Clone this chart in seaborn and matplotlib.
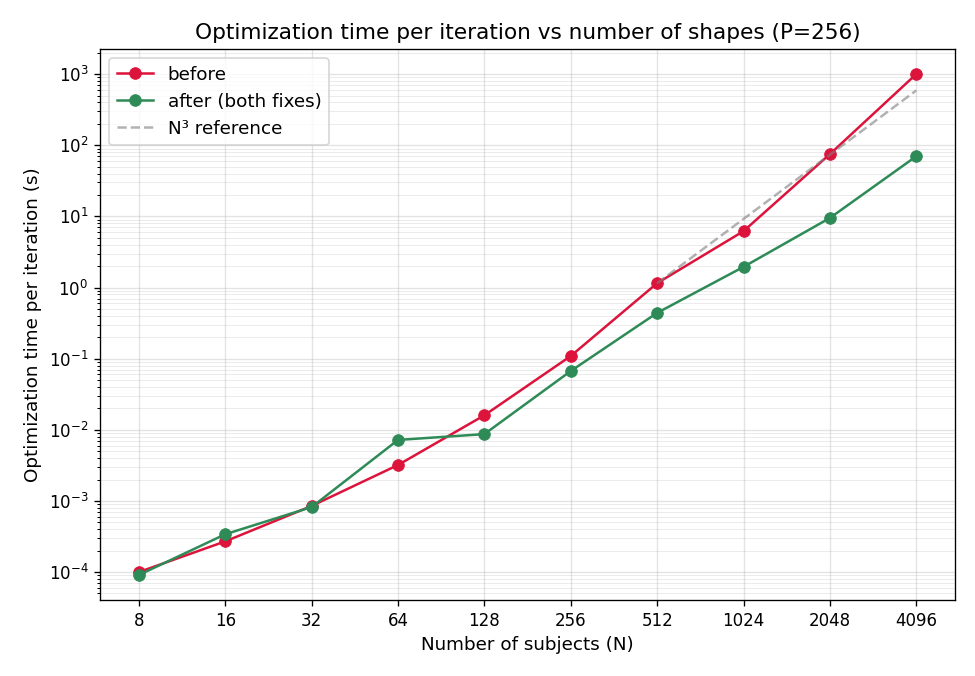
import numpy as np
import pandas as pd
import matplotlib
matplotlib.use("Agg")
import matplotlib.pyplot as plt
import matplotlib.ticker as mticker
import seaborn as sns

# plain matplotlib look, seaborn only draws the lines
plt.rcParams['font.family'] = ['DejaVu Sans']

# data
n_subjects = [8, 16, 32, 64, 128, 256, 512, 1024, 2048, 4096]
time_before = [1.0e-4, 2.7e-4, 8.5e-4, 3.2e-3, 1.6e-2, 0.109, 1.15, 6.2, 75.0, 1000.0]
time_after = [9.1e-5, 3.4e-4, 8.2e-4, 7.2e-3, 8.7e-3, 0.067, 0.44, 1.95, 9.5, 70.0]
ref_n = [512, 1024, 2048, 4096]
ref_time = [1.15, 9.2, 73.6, 589.0]

red = '#DC143C'
green = '#2E8B57'

fig = plt.figure(figsize=(975 / 120, 676 / 120), dpi=120)
ax = fig.add_axes([0.1026, 0.1124, 0.877, 0.815])

sns.lineplot(x=n_subjects, y=time_before, ax=ax, color=red, marker='o',
             markersize=7, markeredgecolor=red, markeredgewidth=0.5,
             linewidth=1.5, label='before')
sns.lineplot(x=n_subjects, y=time_after, ax=ax, color=green, marker='o',
             markersize=7, markeredgecolor=green, markeredgewidth=0.5,
             linewidth=1.5, label='after (both fixes)')
sns.lineplot(x=ref_n, y=ref_time, ax=ax, color='gray', alpha=0.6, linestyle='--',
             linewidth=1.5, label='N³ reference')

ax.set_xscale('log', base=2)
ax.set_yscale('log')
ax.set_xticks(n_subjects)
ax.xaxis.set_major_formatter(mticker.FixedFormatter([str(n) for n in n_subjects]))
ax.xaxis.set_minor_locator(mticker.NullLocator())

ax.grid(True, which='major', color='#b0b0b0', alpha=0.35, linewidth=0.8)
ax.grid(True, which='minor', axis='y', color='#b0b0b0', alpha=0.25, linewidth=0.6)

ax.set_xlabel('Number of subjects (N)', fontsize=11)
ax.set_ylabel('Optimization time per iteration (s)', fontsize=11)
ax.set_title('Optimization time per iteration vs number of shapes (P=256)', fontsize=13)
ax.legend(loc='upper left', fontsize=11)

fig.savefig('out.png', dpi=120)
